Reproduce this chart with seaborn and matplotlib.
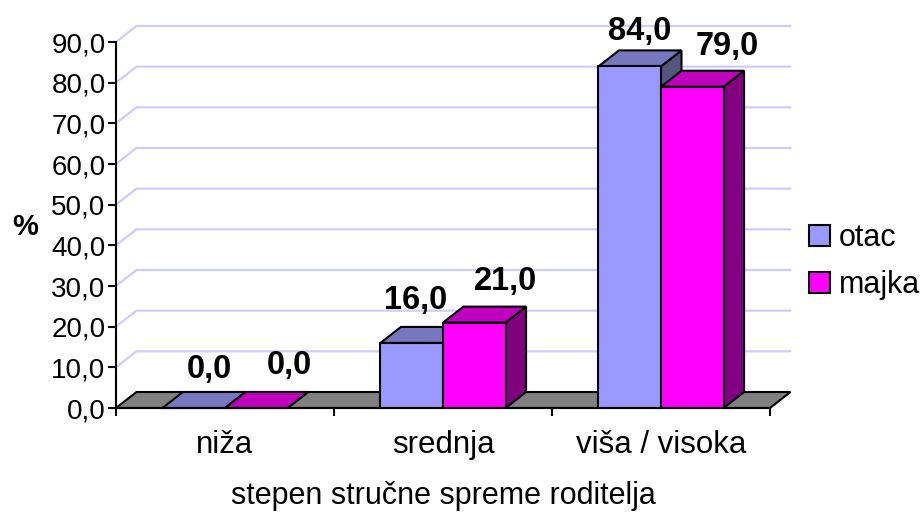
"""Stepen strucne spreme roditelja, 3D-looking bars on top of a seaborn barplot."""
import matplotlib
matplotlib.use("Agg")
import matplotlib.pyplot as plt
from matplotlib.patches import Patch, Polygon
import pandas as pd
import seaborn as sns

CATEGORIES = ["niža", "srednja", "viša / visoka"]
SERIES = ["otac", "majka"]
OTAC = [0.0, 16.0, 84.0]
MAJKA = [0.0, 21.0, 79.0]
Y_TICKS = [0, 10, 20, 30, 40, 50, 60, 70, 80, 90]

FRONT = {"otac": "#9999FF", "majka": "#FF00FF"}
TOP = {"otac": "#7777BF", "majka": "#BF00BF"}
SIDE = {"otac": "#555580", "majka": "#800080"}
GRID = "#CCCCFF"
FLOOR = "#808080"

W, H = 922, 512
LEFT, RIGHT, BOTTOM, TOP_PX = 116, 770, 408, 42
DEPTH_X, DEPTH_Y = 20.5, 16  # pixels
LW = 1.5
# value label shift from the bar centre, as Excel placed them (pixels)
LABEL_DX = {"otac": [16, 4, 10], "majka": [33, 31, 35]}
LABEL_DY = {"otac": [30, 34, 26], "majka": [34, 33, 32]}

sns.set_style("white")
plt.rcParams["font.family"] = ["Liberation Sans", "DejaVu Sans"]
plt.rcParams["text.color"] = "black"
plt.rcParams["axes.labelcolor"] = "black"
plt.rcParams["xtick.labelcolor"] = "black"
plt.rcParams["ytick.labelcolor"] = "black"

df = pd.DataFrame({
    "stepen": CATEGORIES * 2,
    "roditelj": [SERIES[0]] * 3 + [SERIES[1]] * 3,
    "procenat": OTAC + MAJKA,
})

fig = plt.figure(figsize=(W / 100, H / 100), dpi=100)
ax = fig.add_axes([LEFT / W, 1 - BOTTOM / H, (RIGHT - LEFT) / W, (BOTTOM - TOP_PX) / H])

sns.barplot(
    data=df, x="stepen", y="procenat", hue="roditelj", order=CATEGORIES, hue_order=SERIES,
    palette=FRONT, width=0.574, gap=0, edgecolor="black", linewidth=LW, saturation=1,
    legend=False, ax=ax,
)
ax.set_xlim(-0.5, 2.5)
ax.set_ylim(0, 90)

dx = DEPTH_X * 3 / (RIGHT - LEFT)
dy = DEPTH_Y * 90 / (BOTTOM - TOP_PX)

# back wall grid with the short diagonal on the left wall
for v in Y_TICKS[1:]:
    ax.plot([-0.5, -0.5 + dx, 2.5 + dx], [v, v + dy, v + dy], color=GRID, lw=1.6,
            clip_on=False, zorder=1, solid_joinstyle="miter")

# floor
ax.add_patch(Polygon([(-0.5, 0), (2.5, 0), (2.5 + dx, dy), (-0.5 + dx, dy)], closed=True,
                     facecolor=FLOOR, edgecolor="black", lw=LW, clip_on=False, zorder=2))

# side and top faces follow the seaborn bars
for s, (name, container) in enumerate(zip(SERIES, ax.containers)):
    for i, bar in enumerate(container):
        x0, x1 = bar.get_x(), bar.get_x() + bar.get_width()
        v = bar.get_height()
        base = 3 + s * 3
        ax.add_patch(Polygon([(x1, 0), (x1 + dx, dy), (x1 + dx, v + dy), (x1, v)], closed=True,
                             facecolor=SIDE[name], edgecolor="black", lw=LW, clip_on=False,
                             zorder=base))
        ax.add_patch(Polygon([(x0, v), (x1, v), (x1 + dx, v + dy), (x0 + dx, v + dy)], closed=True,
                             facecolor=TOP[name], edgecolor="black", lw=LW, clip_on=False,
                             zorder=base + 1))
        bar.set_zorder(base + 2)
        ax.annotate(f"{v:.1f}".replace(".", ","), xy=((x0 + x1) / 2, v),
                    xytext=(LABEL_DX[name][i], LABEL_DY[name][i]), textcoords="offset pixels",
                    ha="center", va="baseline", fontsize=23.5, fontweight="bold", color="black",
                    annotation_clip=False, zorder=20)

ax.set_yticks(Y_TICKS)
ax.set_yticklabels([f"{v:.1f}".replace(".", ",") for v in Y_TICKS])
ax.set_xticks([-0.5, 0.5, 1.5, 2.5])
ax.set_xticklabels([])
ax.set_xticks([0, 1, 2], minor=True)
ax.set_xticklabels(CATEGORIES, minor=True)
ax.tick_params(axis="x", which="major", length=6, width=LW, color="black", direction="out", bottom=True)
ax.tick_params(axis="x", which="minor", length=0, labelsize=22.5, pad=16, bottom=False)
ax.tick_params(axis="y", length=6, width=LW, color="black", direction="out", left=True,
               labelsize=20, pad=1.5)

sns.despine(ax=ax)
for side in ("left", "bottom"):
    ax.spines[side].set_color("black")
    ax.spines[side].set_linewidth(LW)
    ax.spines[side].set_zorder(30)

ax.set_xlabel("stepen stručne spreme roditelja", fontsize=22)
ax.xaxis.set_label_coords(0.5, -0.2)
ax.set_ylabel("%", fontsize=21, fontweight="bold", rotation=0, ha="center", va="center")
ax.yaxis.set_label_coords(-0.139, 0.495)

handles = [Patch(facecolor=FRONT[n], edgecolor="black", lw=LW, label=n) for n in SERIES]
ax.legend(handles=handles, loc="upper left", bbox_to_anchor=(800 / W, 1 - 214 / H),
          bbox_transform=fig.transFigure, frameon=False, fontsize=22, handlelength=0.68,
          handleheight=0.68, handletextpad=0.3, labelspacing=0.55, borderpad=0.3, borderaxespad=0)

fig.savefig("out.png", dpi=100)
plt.close(fig)
